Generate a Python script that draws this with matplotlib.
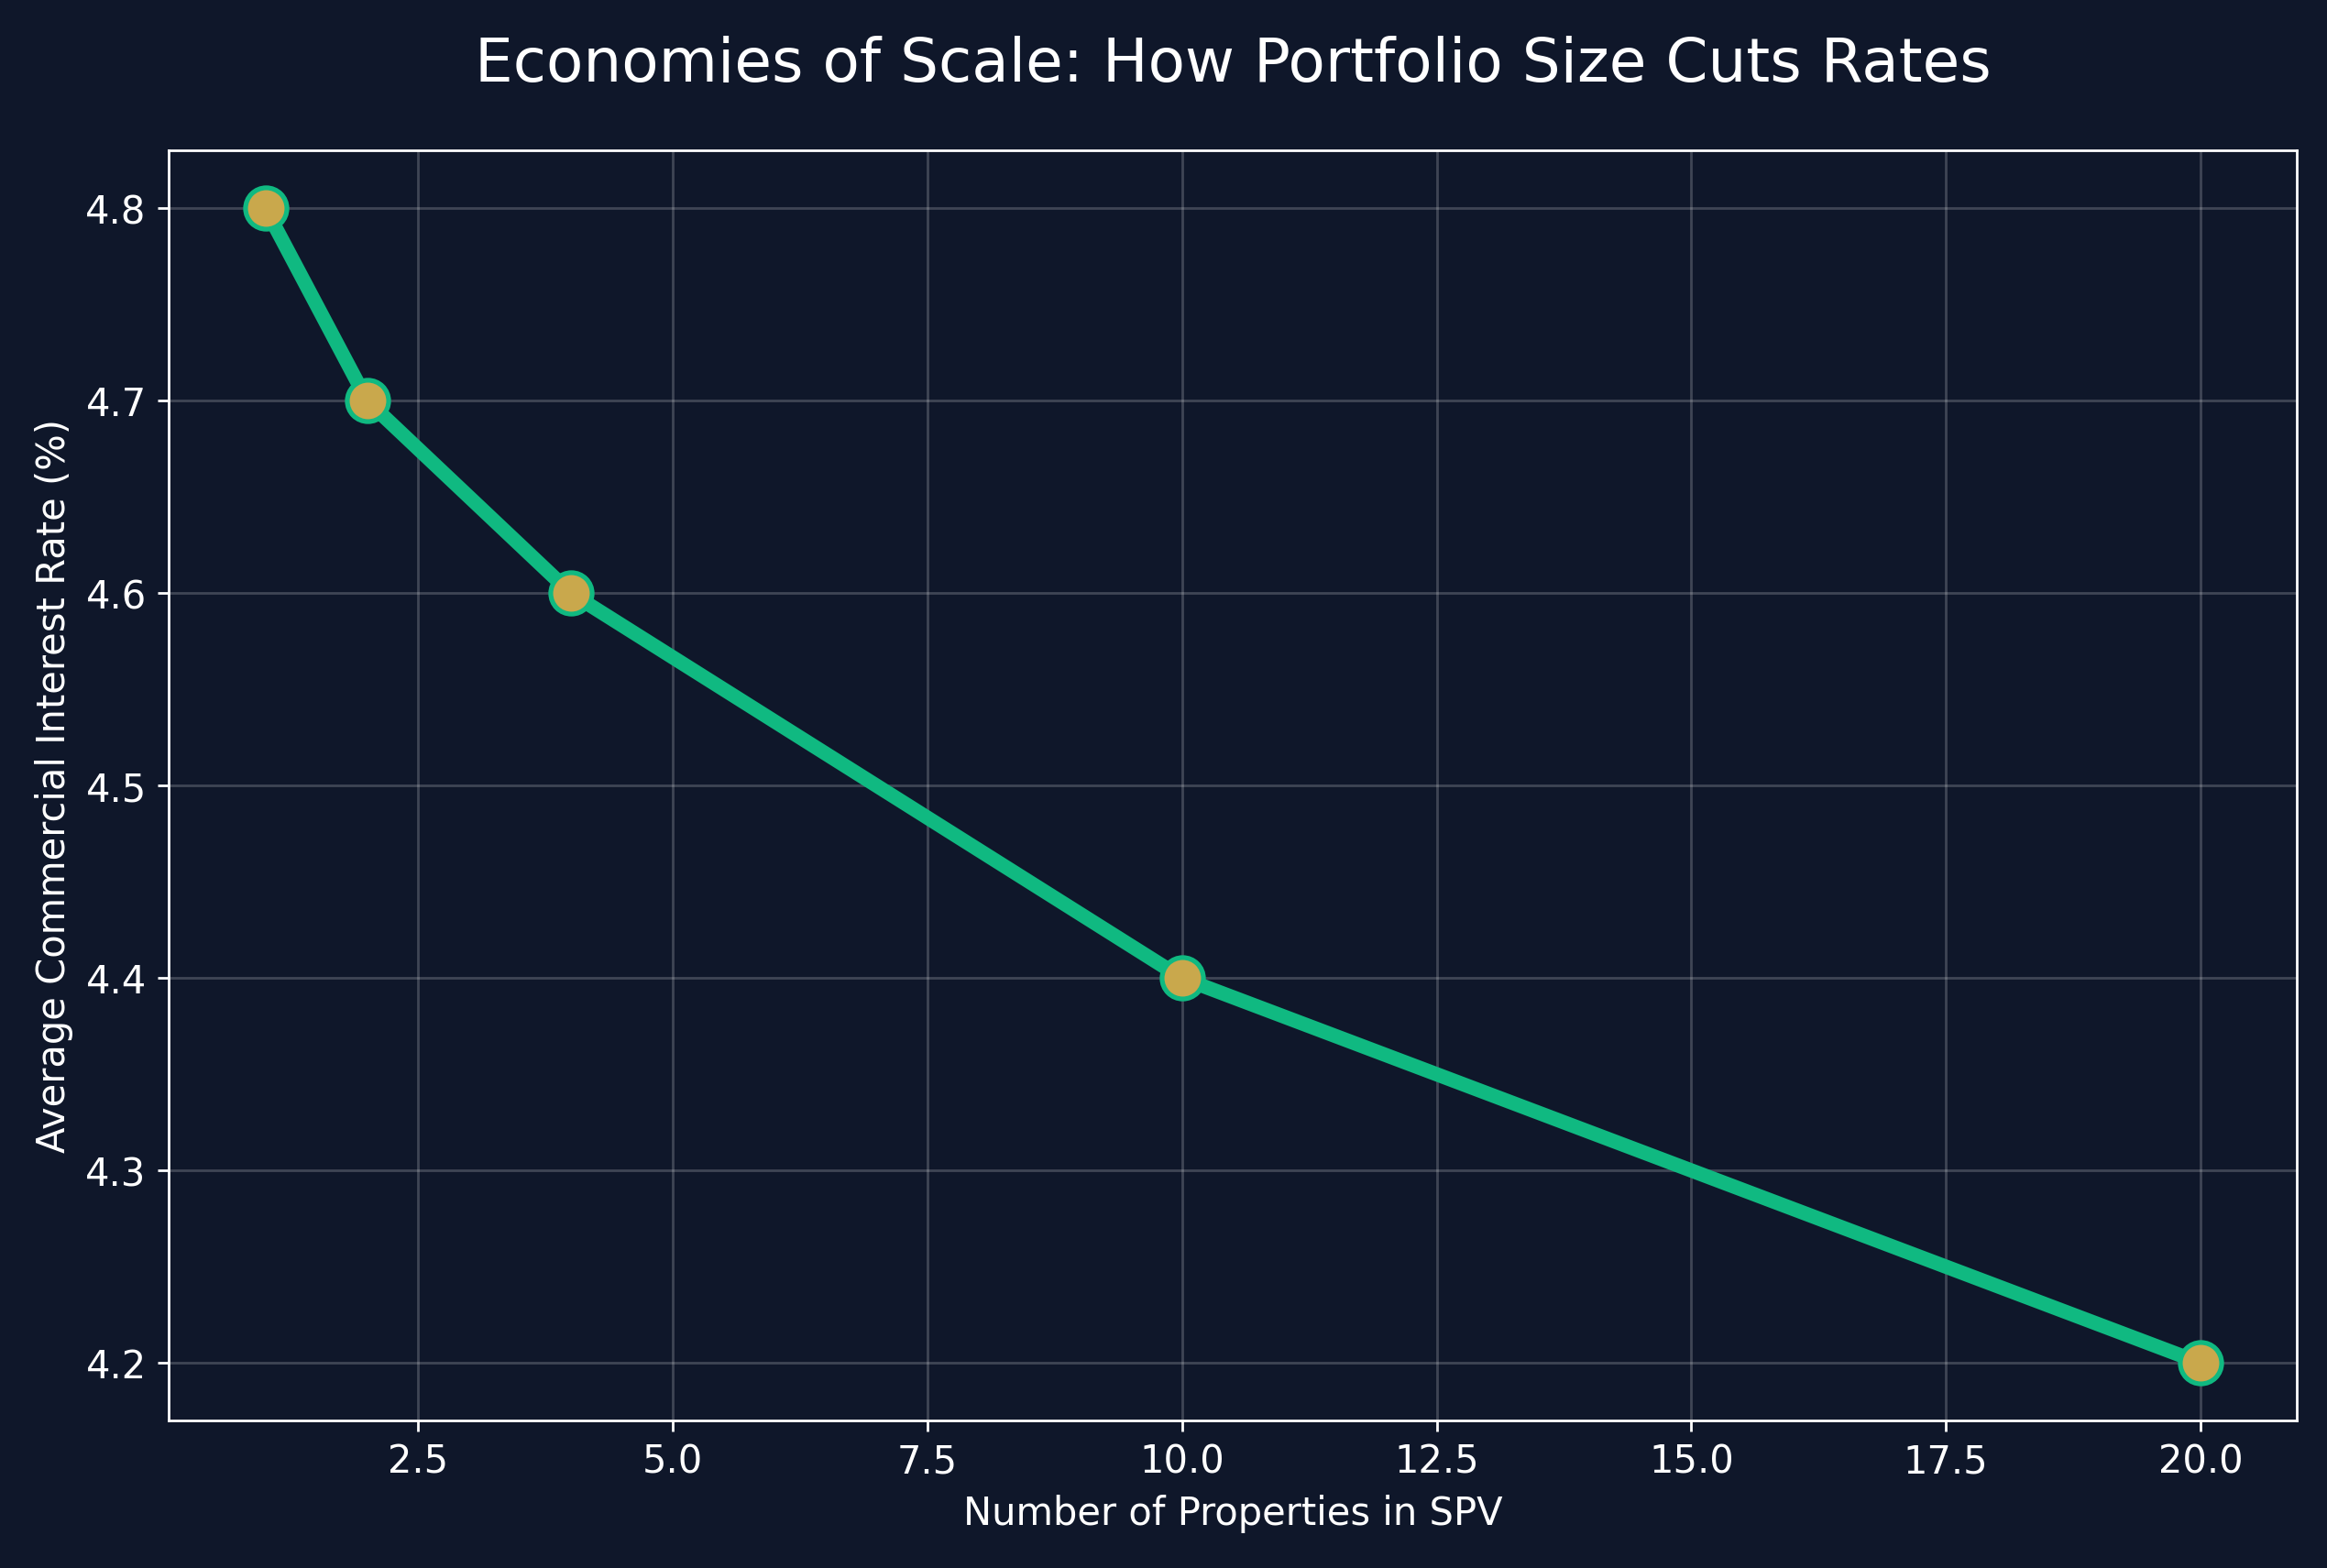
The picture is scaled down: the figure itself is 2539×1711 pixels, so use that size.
import matplotlib
matplotlib.use("Agg")
import matplotlib.pyplot as plt

# Data
properties = [1, 2, 4, 10, 20]
rates = [4.8, 4.7, 4.6, 4.4, 4.2]

bg = "#0F172A"
line_col = "#10B981"
gold = "#C9A84C"

fig, ax = plt.subplots(figsize=(10.158, 6.846), dpi=250)
fig.patch.set_facecolor(bg)
ax.set_facecolor(bg)

ax.plot(properties, rates, color=line_col, linewidth=4.5,
        marker="o", markersize=13, markerfacecolor=gold,
        markeredgecolor=line_col, markeredgewidth=1.5)

ax.set_title("Economies of Scale: How Portfolio Size Cuts Rates",
             color="white", fontsize=19, pad=22)
ax.set_xlabel("Number of Properties in SPV", color="white", fontsize=12)
ax.set_ylabel("Average Commercial Interest Rate (%)", color="white", fontsize=12)

ax.grid(True, color="white", alpha=0.2, linewidth=0.8)
ax.tick_params(colors="white", labelsize=12)
for s in ax.spines.values():
    s.set_color("white")

fig.subplots_adjust(left=0.0725, right=0.987, top=0.9036, bottom=0.094)
fig.savefig("out.png", dpi=250, facecolor=bg)
